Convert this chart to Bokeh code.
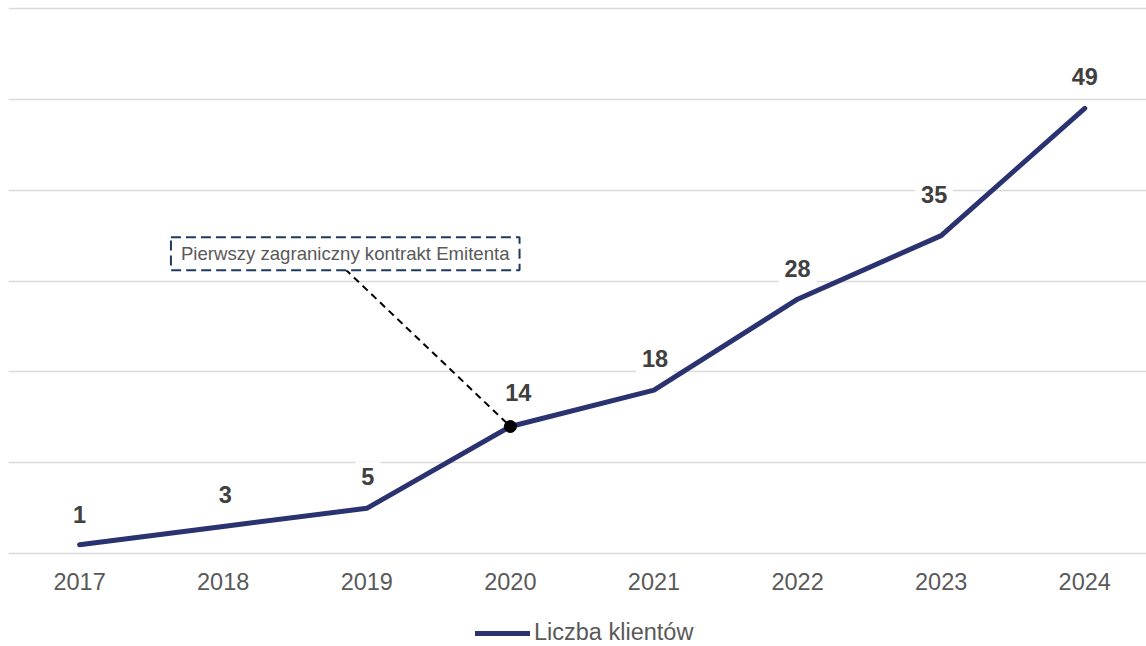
from bokeh.plotting import figure
from bokeh.layouts import column
from bokeh.models import (Range1d, FixedTicker, Label, Legend, LegendItem,
                          ColumnDataSource)
from bokeh.core.properties import value
from bokeh.embed import file_html
from bokeh.resources import INLINE

years = [2017, 2018, 2019, 2020, 2021, 2022, 2023, 2024]
clients = [1, 3, 5, 14, 18, 28, 35, 49]
labels = [str(v) for v in clients]
series_name = "Liczba klientów"
annotation_text = "Pierwszy zagraniczny kontrakt Emitenta"
annotation_year = 2020
annotation_value = 14
annotation_box_x = 2018.85
annotation_box_y = 33.0
annotation_line_top = 31.3

# label placement tweaks (screen px)
label_dx = [0, 2, 1, 8, 1, 0, -7, 0]
label_dy = [-30, -32, -32, -34, -32, -31, -41, -32]

FONT = "Liberation Sans"
NAVY = "#2B3270"

src = ColumnDataSource(dict(x=years, y=clients, lab=labels, dx=label_dx, dy=label_dy))

p = figure(width=1146, height=602, output_backend="svg", toolbar_location=None,
           x_range=Range1d(2016.505, 2024.43), y_range=Range1d(-0.3, 60.2),
           min_border_left=8, min_border_right=0, min_border_top=6,
           min_border_bottom=46)
p.outline_line_color = None
p.background_fill_color = "white"
p.border_fill_color = "white"

p.yaxis.visible = False
p.xgrid.visible = False
p.ygrid.ticker = FixedTicker(ticks=[0, 10, 20, 30, 40, 50, 60])
p.ygrid.grid_line_color = "#D9D9D9"
p.ygrid.grid_line_width = 1.5

p.xaxis.ticker = FixedTicker(ticks=years)
p.xaxis.axis_line_color = None
p.xaxis.major_tick_line_color = None
p.xaxis.minor_tick_line_color = None
p.xaxis.major_tick_out = 0
p.xaxis.major_tick_in = 0
p.xaxis.major_label_text_font = FONT
p.xaxis.major_label_text_font_size = "23.5px"
p.xaxis.major_label_text_color = "#595959"
p.xaxis.major_label_standoff = 16

r = p.line("x", "y", source=src, line_color=NAVY, line_width=5,
           line_cap="round", line_join="round")

p.text("x", "y", text="lab", source=src, x_offset="dx", y_offset="dy",
       text_align="center", text_baseline="middle",
       text_font=value(FONT), text_font_size="23.5px", text_font_style="bold",
       text_color="#404040", background_fill_color="white", padding=6)

# annotation connector
p.line([annotation_box_x, annotation_year], [annotation_line_top, annotation_value],
       line_color="black", line_width=2, line_dash="7 5")
p.scatter([annotation_year], [annotation_value], size=12, color="black")

ann = Label(x=annotation_box_x, y=annotation_box_y, text=annotation_text,
            text_align="center", text_baseline="middle",
            text_font=FONT, text_font_size="18.6px", text_color="#595959",
            background_fill_color="white",
            border_line_color="#1F3A5F", border_line_width=2,
            border_line_dash="10 5", padding=(10, 6))
p.add_layout(ann)

# legend strip
lg = figure(width=1146, height=44, output_backend="svg", toolbar_location=None,
            x_range=Range1d(0, 1), y_range=Range1d(0, 1),
            min_border=0, min_border_left=0, min_border_right=0,
            min_border_top=0, min_border_bottom=0)
lg.axis.visible = False
lg.grid.visible = False
lg.outline_line_color = None
lr = lg.line(years, clients, line_color=NAVY, line_width=5, line_cap="round")
legend = Legend(items=[LegendItem(label=series_name, renderers=[lr])],
                location=(467, 0), orientation="horizontal",
                glyph_width=55, glyph_height=24, label_height=24, label_standoff=4,
                label_text_font=FONT, label_text_font_size="23.5px",
                label_text_color="#595959", padding=0, margin=0,
                border_line_color=None, background_fill_alpha=0)
lg.add_layout(legend, "center")

open("out.html", "w").write(file_html(column(p, lg, spacing=0), INLINE))
